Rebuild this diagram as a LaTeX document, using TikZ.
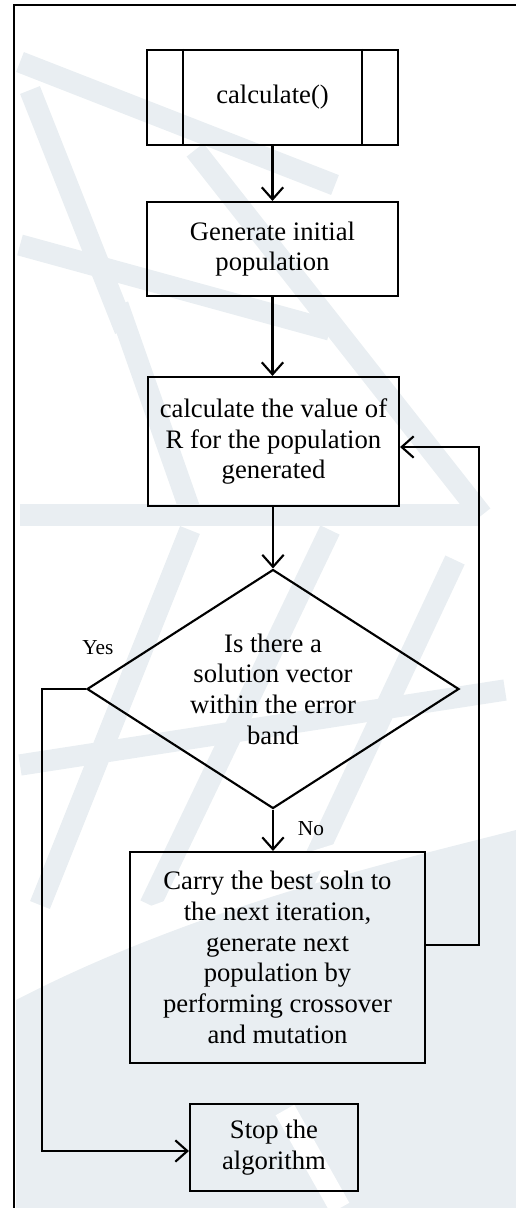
\documentclass[tikz,border=0pt]{standalone}
\usepackage{fontspec}
\setmainfont{Liberation Serif}
\usetikzlibrary{arrows.meta,shapes.geometric}
\definecolor{wm}{RGB}{233,238,242}
\begin{document}
\begin{tikzpicture}[x=0.75pt,y=-0.75pt,
  box/.style={draw,line width=1.6pt,align=center,inner sep=0pt,font=\fontsize{20}{23}\selectfont},
  dia/.style={diamond,draw,line width=1.6pt,align=center,inner sep=0pt,shape aspect=1.556,font=\fontsize{20}{23}\selectfont},
  lbl/.style={font=\fontsize{16}{19}\selectfont,inner sep=0pt},
  conn/.style={line width=1.6pt},
  arr/.style={line width=1.6pt,-{Straight Barb[length=9pt,width=16pt]}}]
\useasboundingbox (0,0) rectangle (516,1208);
% watermark
\begin{scope}
\clip (16,7) rectangle (516,1208);
\begin{scope}[wm,line width=16pt]
\draw (20,62) -- (335,185);
\draw (30,90) -- (125,330);
\draw (20,245) -- (330,330);
\draw (118,305) -- (190,510);
\draw (195,150) -- (482,515);
\draw (20,515) -- (480,515);
\draw (40,905) -- (190,530);
\draw (150,905) -- (330,530);
\draw (300,890) -- (455,560);
\draw (20,765) -- (505,690);
\end{scope}
\fill[wm] (16,1000) .. controls (200,905) and (400,860) .. (516,830) -- (516,1208) -- (16,1208) -- cycle;
\fill[white] (16,960) .. controls (200,880) and (380,830) .. (516,790) -- (516,810) .. controls (380,850) and (200,905) .. (16,985) -- cycle;
\draw[white,line width=16pt] (285,1110) -- (340,1208);
\end{scope}
% frame
\coordinate (f0) at (14,1208);
\coordinate (f1) at (14,5);
\coordinate (f2) at (516,5);
\draw[conn] (f0) -- (f1) -- (f2);
% nodes
\node[box,minimum width=188.25pt,minimum height=71.25pt] (calc) at (272.5,97.5) {calculate()};
\draw[conn] ([xshift=27.75pt]calc.north west) -- ([xshift=27.75pt]calc.south west);
\draw[conn] ([xshift=-27.75pt]calc.north east) -- ([xshift=-27.75pt]calc.south east);
\node[box,minimum width=188.25pt,minimum height=70.5pt] (gen) at (272.5,249) {Generate initial\\population};
\node[box,minimum width=188.25pt,minimum height=96.75pt] (R) at (273.5,441.5) {calculate the value of\\R for the population\\generated};
\node[dia,minimum width=279pt,minimum height=179.25pt] (d) at (273,689) {Is there a\\solution vector\\within the error\\band};
\node[box,minimum width=221.25pt,minimum height=158.25pt] (carry) at (277.5,957.5) {Carry the best soln to\\the next iteration,\\generate next\\population by\\performing crossover\\and mutation};
\node[box,minimum width=126pt,minimum height=65.25pt] (stop) at (274,1147.5) {Stop the\\algorithm};
\node[lbl] (yes) at (98,648) {Yes};
\node[lbl] (no) at (311,829) {No};
% connectors
\coordinate (fb1) at (479,945);
\coordinate (fb2) at (479,447);
\coordinate (y1) at (42,689);
\coordinate (y2) at (42,1151);
\draw[arr] (calc.south) -- (gen.north);
\draw[arr] (gen.south) -- (gen.south |- R.north);
\draw[arr] (R.south -| d.north) -- (d.north);
\draw[arr] (d.south) -- (d.south |- carry.north);
\draw[arr] (carry.east |- fb1) -- (fb1) -- (fb2) -- (R.east |- fb2);
\draw[arr] (d.west) -- (y1) -- (y2) -- (stop.west |- y2);
\end{tikzpicture}
\end{document}
